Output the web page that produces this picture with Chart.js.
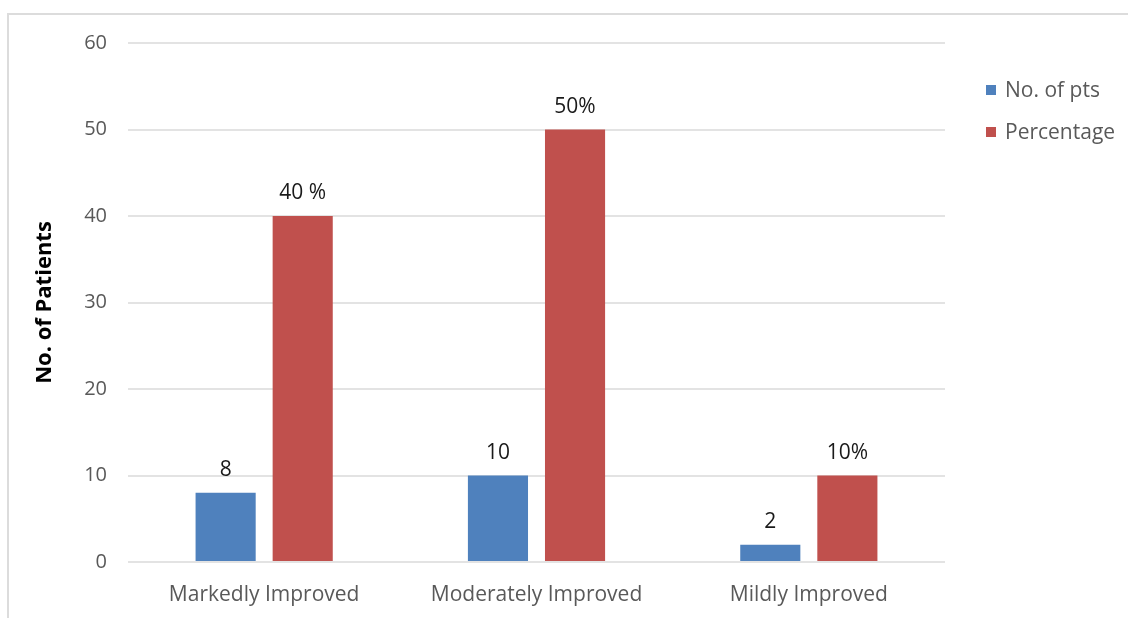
<!DOCTYPE html>
<html>
<head>
<meta charset="utf-8">
<script src="https://cdn.jsdelivr.net/npm/chart.js@4.4.1/dist/chart.umd.min.js"></script>
<style>
  html, body { margin: 0; padding: 0; background: #fff; overflow: hidden; }
  #frame { position: absolute; left: 7px; top: 13px; width: 1200px; height: 700px; border: 2px solid #dcdcdc; box-sizing: border-box; }
  #wrap { position: absolute; left: 0; top: 0; width: 1128px; height: 618px; }
</style>
</head>
<body>
<div id="frame"></div>
<div id="wrap"><canvas id="c" width="1128" height="618"></canvas></div>
<script>
const categories = ["Markedly Improved", "Moderately Improved", "Mildly Improved"];
const seriesNames = ["No. of pts", "Percentage"];
const ptsValues = [8, 10, 2];
const pctValues = [40, 50, 10];
const ptsLabels = ["8", "10", "2"];
const pctLabels = ["40 %", "50%", "10%"];
const yTicks = [0, 10, 20, 30, 40, 50, 60];
const yTitle = "No. of Patients";
const colors = ["#4f81bd", "#c0504d"];

const FONT = "'Open Sans', 'DejaVu Sans', sans-serif";

const valueLabels = {
  id: 'valueLabels',
  afterDatasetsDraw(chart) {
    const ctx = chart.ctx;
    const sets = [ptsLabels, pctLabels];
    ctx.save();
    ctx.font = "21px " + FONT;
    ctx.fillStyle = "#1a1a1a";
    ctx.textAlign = "center";
    ctx.textBaseline = "alphabetic";
    chart.data.datasets.forEach((ds, i) => {
      const meta = chart.getDatasetMeta(i);
      meta.data.forEach((bar, j) => {
        ctx.fillText(sets[i][j], bar.x, bar.y - 17);
      });
    });
    ctx.restore();
  }
};

const customLegend = {
  id: 'customLegend',
  afterDraw(chart) {
    const ctx = chart.ctx;
    ctx.save();
    ctx.font = "21px " + FONT;
    ctx.textBaseline = "middle";
    chart.data.datasets.forEach((ds, i) => {
      const y = 90 + i * 42;
      ctx.fillStyle = ds.backgroundColor;
      ctx.fillRect(986, y - 5, 10, 10);
      ctx.fillStyle = "#595959";
      ctx.fillText(ds.label, 1005, y + 1);
    });
    ctx.restore();
  }
};

new Chart(document.getElementById('c'), {
  type: 'bar',
  data: {
    labels: categories,
    datasets: [
      { label: seriesNames[0], data: ptsValues, backgroundColor: colors[0] },
      { label: seriesNames[1], data: pctValues, backgroundColor: colors[1] }
    ]
  },
  options: {
    responsive: false,
    animation: false,
    devicePixelRatio: 1,
    layout: { padding: { top: 43, right: 183, bottom: 0, left: 0 } },
    datasets: { bar: { categoryPercentage: 0.566, barPercentage: 0.78 } },
    plugins: { legend: { display: false }, tooltip: { enabled: false } },
    scales: {
      x: {
        grid: { display: false, drawTicks: false },
        border: { display: false },
        ticks: { color: "#595959", font: { family: FONT, size: 21 }, padding: 20 },
        afterFit(s) { s.height = 56; }
      },
      y: {
        min: 0, max: 60,
        afterBuildTicks(s) { s.ticks = yTicks.map(v => ({ value: v })); },
        grid: { color: "#e3e3e3", lineWidth: 2, drawTicks: false },
        border: { display: false },
        ticks: { color: "#595959", font: { family: FONT, size: 20 }, padding: 21 },
        title: { display: true, text: yTitle, color: "#000", font: { family: FONT, size: 22, weight: 'bold' }, padding: { top: 32, bottom: 0 } },
        afterFit(s) { s.width = 128; }
      }
    }
  },
  plugins: [valueLabels, customLegend]
});
</script>
</body>
</html>
